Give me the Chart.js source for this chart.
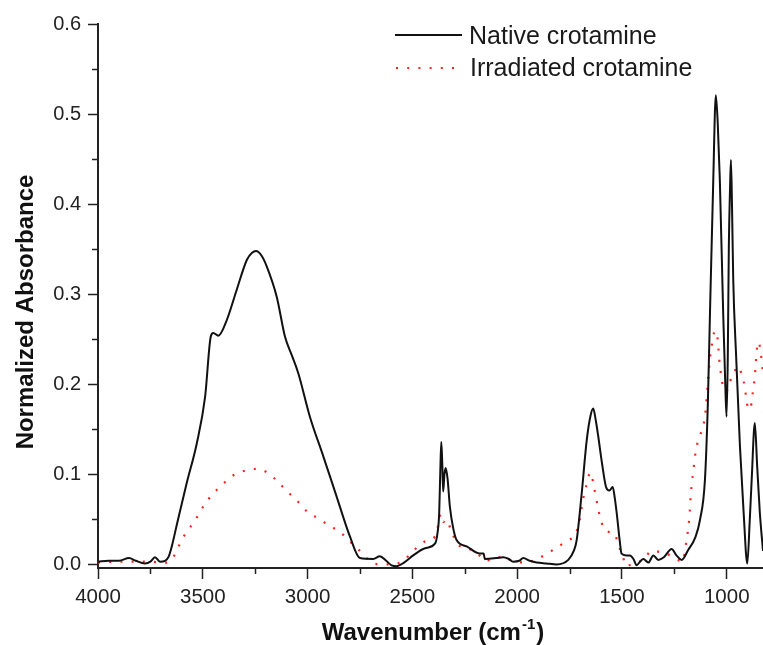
<!DOCTYPE html>
<html>
<head>
<meta charset="utf-8">
<script src="https://cdn.jsdelivr.net/npm/chart.js@4"></script>
<style>
  body { margin: 0; background: #fff; }
  #wrap { width: 763px; height: 645px; }
</style>
</head>
<body>
<div id="wrap"><canvas id="irChart" width="763" height="645"></canvas></div>
<script>
// FTIR spectra
const seriesNames = ["Native crotamine", "Irradiated crotamine"];

const nativeWn = [4000, 3950, 3900, 3852, 3820, 3776, 3750, 3728, 3704, 3680, 3664, 3648, 3622, 3577, 3529, 3489, 3462, 3450, 3426, 3386,
    3338, 3290, 3265, 3246, 3220, 3195, 3147, 3108, 3075, 3044, 2989, 2925, 2861, 2798, 2750, 2687, 2655, 2625, 2599, 2575,
    2540, 2496, 2440, 2392, 2380, 2372, 2366, 2362, 2357, 2353, 2347, 2341, 2332, 2321, 2305, 2289, 2241, 2178, 2160, 2154,
    2100, 2066, 2040, 2019, 1990, 1971, 1940, 1907, 1860, 1812, 1756, 1730, 1716, 1692, 1668, 1650, 1637, 1625, 1613, 1595,
    1576, 1560, 1544, 1535, 1525, 1510, 1502, 1480, 1462, 1445, 1430, 1414, 1398, 1374, 1350, 1327, 1300, 1263, 1240, 1215,
    1184, 1150, 1128, 1104, 1090, 1080, 1065, 1052, 1043, 1033, 1017, 1007, 1001, 995, 990, 984, 980, 975, 969, 955,
    937, 920, 902, 890, 881, 866, 855, 842, 827];
const nativeAbs = [0.003, 0.004, 0.004, 0.007, 0.004, 0.001, 0.003, 0.008, 0.003, 0.004, 0.008, 0.020, 0.046, 0.090, 0.134, 0.186, 0.253, 0.257, 0.254, 0.271,
    0.305, 0.338, 0.346, 0.348, 0.343, 0.331, 0.297, 0.253, 0.232, 0.212, 0.164, 0.120, 0.075, 0.031, 0.007, 0.006, 0.009, 0.004, -0.001, -0.002,
    0.002, 0.010, 0.018, 0.023, 0.035, 0.057, 0.110, 0.136, 0.110, 0.081, 0.100, 0.107, 0.095, 0.064, 0.040, 0.027, 0.020, 0.012, 0.012, 0.006,
    0.007, 0.008, 0.006, 0.003, 0.004, 0.007, 0.004, 0.002, 0.001, 0.000, 0.005, 0.015, 0.027, 0.079, 0.138, 0.165, 0.173, 0.160, 0.142, 0.112,
    0.086, 0.082, 0.086, 0.075, 0.057, 0.025, 0.012, 0.010, 0.010, 0.006, -0.001, 0.003, 0.006, 0.002, 0.010, 0.005, 0.008, 0.017, 0.010, 0.005,
    0.016, 0.030, 0.049, 0.094, 0.180, 0.279, 0.420, 0.521, 0.490, 0.427, 0.279, 0.200, 0.164, 0.230, 0.353, 0.420, 0.449, 0.400, 0.316, 0.230,
    0.131, 0.060, 0.001, 0.050, 0.094, 0.157, 0.110, 0.057, 0.015];

const irradWn = [4000, 3900, 3768, 3672, 3641, 3596, 3561, 3526, 3493, 3453, 3405, 3354, 3299, 3246, 3192, 3143, 3097, 3047, 2999, 2949,
    2896, 2845, 2800, 2742, 2694, 2640, 2591, 2535, 2491, 2445, 2392, 2376, 2365, 2353, 2337, 2317, 2286, 2238, 2193, 2149,
    2114, 2074, 2020, 1963, 1915, 1864, 1816, 1764, 1721, 1704, 1685, 1673, 1661, 1648, 1637, 1626, 1616, 1605, 1586, 1561,
    1534, 1518, 1497, 1481, 1440, 1398, 1358, 1306, 1250, 1212, 1191, 1178, 1171, 1160, 1147, 1133, 1113, 1103, 1089, 1080,
    1072, 1065, 1049, 1042, 1033, 1025, 1017, 1001, 985, 969, 946, 930, 919, 910, 903, 887, 879, 871, 866, 861,
    858, 850, 839, 829];
const irradAbs = [0.002, 0.003, 0.003, 0.002, 0.008, 0.029, 0.041, 0.053, 0.066, 0.078, 0.089, 0.099, 0.104, 0.106, 0.102, 0.092, 0.081, 0.070, 0.058, 0.051,
    0.043, 0.036, 0.026, 0.013, 0.002, 0.000, 0.000, 0.006, 0.016, 0.025, 0.031, 0.044, 0.056, 0.047, 0.050, 0.039, 0.023, 0.018, 0.013, 0.004,
    0.007, 0.008, 0.004, 0.002, 0.005, 0.011, 0.018, 0.026, 0.034, 0.047, 0.073, 0.084, 0.097, 0.102, 0.090, 0.077, 0.065, 0.053, 0.040, 0.036,
    0.034, 0.022, 0.010, -0.002, 0.002, 0.005, 0.015, 0.013, 0.008, 0.003, 0.028, 0.053, 0.079, 0.103, 0.127, 0.140, 0.153, 0.166, 0.205, 0.229,
    0.242, 0.254, 0.259, 0.246, 0.221, 0.208, 0.196, 0.192, 0.203, 0.211, 0.220, 0.212, 0.203, 0.190, 0.178, 0.172, 0.186, 0.198, 0.210, 0.223,
    0.234, 0.247, 0.238, 0.216];

const xMajorTicks = [4000, 3500, 3000, 2500, 2000, 1500, 1000];
const xMinorTicks = [3750, 3250, 2750, 2250, 1750, 1250];
const yMajorTicks = [0.0, 0.1, 0.2, 0.3, 0.4, 0.5, 0.6];
const yMinorTicks = [0.05, 0.15, 0.25, 0.35, 0.45, 0.55];

const FONT = "'Liberation Sans', Arial, Helvetica, sans-serif";

function toPoints(xs, ys) {
    return xs.map((x, i) => ({ x: x, y: ys[i] }));
}

// minor ticks, axis titles and the legend are drawn here
const extrasPlugin = {
    id: "extras",
    afterDraw(chart) {
        const ctx = chart.ctx;
        const xs = chart.scales.x;
        const ys = chart.scales.y;
        const area = chart.chartArea;
        ctx.save();
        ctx.strokeStyle = "#222";
        ctx.lineWidth = 1.5;
        ctx.beginPath();
        xMinorTicks.forEach(v => {
            const px = Math.round(xs.getPixelForValue(v)) + 0.5;
            ctx.moveTo(px, area.bottom);
            ctx.lineTo(px, area.bottom + 6);
        });
        yMinorTicks.forEach(v => {
            const py = Math.round(ys.getPixelForValue(v)) + 0.5;
            ctx.moveTo(area.left, py);
            ctx.lineTo(area.left - 6, py);
        });
        ctx.stroke();

        // x title with superscript
        ctx.fillStyle = "#111";
        ctx.textBaseline = "alphabetic";
        const main = "Wavenumber (cm";
        ctx.font = "bold 15px " + FONT;
        const supW = ctx.measureText("-1").width;
        ctx.font = "bold 24px " + FONT;
        const mainW = ctx.measureText(main).width;
        const closeW = ctx.measureText(")").width;
        const total = mainW + supW + 1 + closeW;
        const tx = (area.left + area.right) / 2 + 2 - total / 2;
        const ty = 640;
        ctx.textAlign = "left";
        ctx.fillText(main, tx, ty);
        ctx.font = "bold 15px " + FONT;
        ctx.fillText("-1", tx + mainW + 1, ty - 11);
        ctx.font = "bold 24px " + FONT;
        ctx.fillText(")", tx + mainW + supW + 2, ty);

        // y title
        ctx.save();
        ctx.translate(33, 312);
        ctx.rotate(-Math.PI / 2);
        ctx.textAlign = "center";
        ctx.fillText("Normalized Absorbance", 0, 0);
        ctx.restore();

        // legend
        ctx.font = "25px " + FONT;
        ctx.textAlign = "left";
        ctx.fillStyle = "#1a1a1a";
        ctx.strokeStyle = "#111";
        ctx.lineWidth = 2;
        ctx.beginPath();
        ctx.moveTo(395, 35);
        ctx.lineTo(462, 35);
        ctx.stroke();
        ctx.fillText(seriesNames[0], 469, 44);
        ctx.strokeStyle = "#ff2020";
        ctx.lineWidth = 2.2;
        ctx.setLineDash([2, 9.2]);
        ctx.beginPath();
        ctx.moveTo(396, 68);
        ctx.lineTo(460, 68);
        ctx.stroke();
        ctx.setLineDash([]);
        ctx.fillText(seriesNames[1], 470, 76);
        ctx.restore();
    }
};

const irCtx = document.getElementById("irChart").getContext("2d");
const irChart = new Chart(irCtx, {
    type: "line",
    data: {
        datasets: [
            {
                label: seriesNames[0],
                data: toPoints(nativeWn, nativeAbs),
                borderColor: "#111",
                borderWidth: 2,
                pointRadius: 0,
                cubicInterpolationMode: "monotone",
                fill: false
            },
            {
                label: seriesNames[1],
                data: toPoints(irradWn, irradAbs),
                borderColor: "#ff2020",
                borderWidth: 2.2,
                borderDash: [2, 9.2],
                pointRadius: 0,
                cubicInterpolationMode: "monotone",
                fill: false
            }
        ]
    },
    options: {
        responsive: false,
        animation: false,
        events: [],
        layout: {
            padding: { top: 24, right: 0, bottom: 0, left: 0 }
        },
        plugins: {
            legend: { display: false },
            title: { display: false },
            tooltip: { enabled: false }
        },
        scales: {
            x: {
                type: "linear",
                reverse: true,
                min: 827,
                max: 4000,
                grid: {
                    drawOnChartArea: false,
                    drawTicks: true,
                    tickLength: 11,
                    tickColor: "#222",
                    tickWidth: 1.5
                },
                border: { display: true, color: "#222", width: 2 },
                ticks: {
                    autoSkip: false,
                    maxRotation: 0,
                    padding: 6,
                    color: "#222",
                    font: { family: FONT, size: 20.5 },
                    callback: v => String(v)
                },
                afterBuildTicks(scale) {
                    scale.ticks = xMajorTicks.map(v => ({ value: v }));
                },
                afterFit(scale) { scale.height = 77; }
            },
            y: {
                type: "linear",
                min: -0.004,
                max: 0.6,
                grid: {
                    drawOnChartArea: false,
                    drawTicks: true,
                    tickLength: 10,
                    tickColor: "#222",
                    tickWidth: 1.5
                },
                border: { display: true, color: "#222", width: 2 },
                ticks: {
                    autoSkip: false,
                    padding: 7,
                    color: "#222",
                    font: { family: FONT, size: 20 },
                    callback: v => v.toFixed(1)
                },
                afterBuildTicks(scale) {
                    scale.ticks = yMajorTicks.map(v => ({ value: v }));
                },
                afterFit(scale) { scale.width = 98; }
            }
        }
    },
    plugins: [extrasPlugin]
});
</script>
</body>
</html>
